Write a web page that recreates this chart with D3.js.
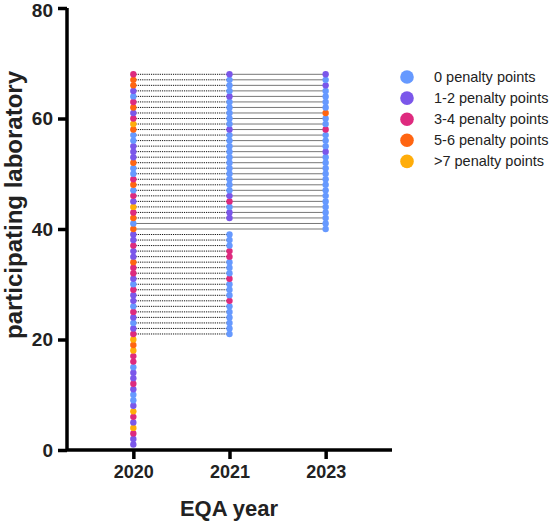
<!DOCTYPE html>
<html><head><meta charset="utf-8">
<script src="https://cdn.jsdelivr.net/npm/d3@7"></script>
<style>body{margin:0;background:#fff}svg{display:block}text{font-family:Arial,"Liberation Sans",sans-serif}</style>
</head><body><svg id="c" width="550" height="522"></svg>
<script>
const years = ["2020", "2021", "2023"];
const categories = ["0 penalty points", "1-2 penalty points", "3-4 penalty points", "5-6 penalty points", ">7 penalty points"];
const colors = ["#6699ff", "#7b57ea", "#de2a7e", "#ff6511", "#ffad0a"];
const yTicks = [0, 20, 40, 60, 80];
// penalty category index per participating laboratory
const firstLab2020 = 1;
const pen2020 = [1,1,2,4,1,2,4,1,0,0, 1,2,1,1,0,2,2,4,3,4, 2,1,0,1,2,0,1,1,2,0, 1,2,2,3,1,1,2,1,1,3, 0,3,2,4,1,2,0,3,2,0, 0,3,1,1,1,0,0,3,4,2, 1,3,2,0,1,3,3,2];
const firstLab2021 = 21;
const pen2021 = [0,0,0,0,0,0,2,0,0,0, 2,0,0,0,2,2,0,0,0,null, null,1,1,0,2,1,0,0,0,0, 0,0,0,0,0,0,0,1,0,0, 0,0,0,1,0,0,0,1];
const firstLab2023 = 40;
const pen2023 = [0,0,0,0,0,0,0,0,0,0, 0,0,0,0,1,0,0,0,2,0, 0,3,0,0,0,0,1,0,1];

const series = [
  {year: "2020", first: firstLab2020, pen: pen2020},
  {year: "2021", first: firstLab2021, pen: pen2021},
  {year: "2023", first: firstLab2023, pen: pen2023}
];
const points = [];
series.forEach(s => s.pen.forEach((p, i) => { if (p !== null) points.push({year: s.year, lab: s.first + i, cat: p}); }));

const svg = d3.select("#c");
const x = d3.scalePoint().domain(years).range([67, 392]).padding(0.69);
const y = d3.scaleLinear().domain([0, 80]).range([450, 8]);

// connecting lines per lab
const byLab = d3.group(points, d => d.lab);
const segs = [];
byLab.forEach((arr, lab) => {
  arr.sort((a, b) => years.indexOf(a.year) - years.indexOf(b.year));
  for (let i = 0; i < arr.length - 1; i++) segs.push({lab, a: arr[i].year, b: arr[i + 1].year});
});
svg.append("g").selectAll("line").data(segs).join("line")
  .attr("x1", d => x(d.a)).attr("x2", d => x(d.b))
  .attr("y1", d => y(d.lab)).attr("y2", d => y(d.lab))
  .attr("stroke", d => (d.a === "2020" && d.b === "2021") ? "#111" : "#777")
  .attr("stroke-width", 1)
  .attr("stroke-dasharray", d => (d.a === "2020" && d.b === "2021") ? "1.2,1" : null);

// axes
const yAxis = svg.append("g").attr("transform", "translate(67,0)")
  .call(d3.axisLeft(y).tickValues(yTicks).tickSize(9).tickPadding(5));
const xAxis = svg.append("g").attr("transform", "translate(0,450)")
  .call(d3.axisBottom(x).tickSize(9).tickPadding(6));
[yAxis, xAxis].forEach(g => {
  g.select(".domain").attr("stroke", "#000").attr("stroke-width", 3.5);
  g.selectAll(".tick line").attr("stroke", "#000").attr("stroke-width", 3.5);
  g.selectAll(".tick text").attr("fill", "#222").attr("font-weight", "bold")
    .attr("font-family", "Arial, 'Liberation Sans', sans-serif");
});
yAxis.selectAll(".tick text").attr("font-size", 19)
  .attr("dy", d => d === 80 ? "0.45em" : "0.32em");
xAxis.selectAll(".tick text").attr("font-size", 18);
yAxis.select(".domain").attr("d", "M0,450V8");
xAxis.select(".domain").attr("d", "M67,0H392");

// dots
svg.append("g").selectAll("circle").data(points).join("circle")
  .attr("cx", d => x(d.year)).attr("cy", d => y(d.lab)).attr("r", 3.2)
  .attr("fill", d => colors[d.cat]);

// titles
svg.append("text").attr("x", 229).attr("y", 516).attr("text-anchor", "middle")
  .attr("font-weight", "bold").attr("font-size", 22).attr("fill", "#222").text("EQA year");
svg.append("text").attr("transform", "translate(22,205) rotate(-90)").attr("text-anchor", "middle")
  .attr("font-weight", "bold").attr("font-size", 24).attr("fill", "#222").text("participating laboratory");

// legend
const lg = svg.append("g").selectAll("g").data(categories).join("g")
  .attr("transform", (d, i) => `translate(407,${77 + i * 21.1})`);
lg.append("circle").attr("r", 6.8).attr("fill", (d, i) => colors[i]);
lg.append("text").attr("x", 27).attr("dy", "0.35em").attr("font-size", 14.5).attr("fill", "#222").text(d => d);
</script></body></html>
